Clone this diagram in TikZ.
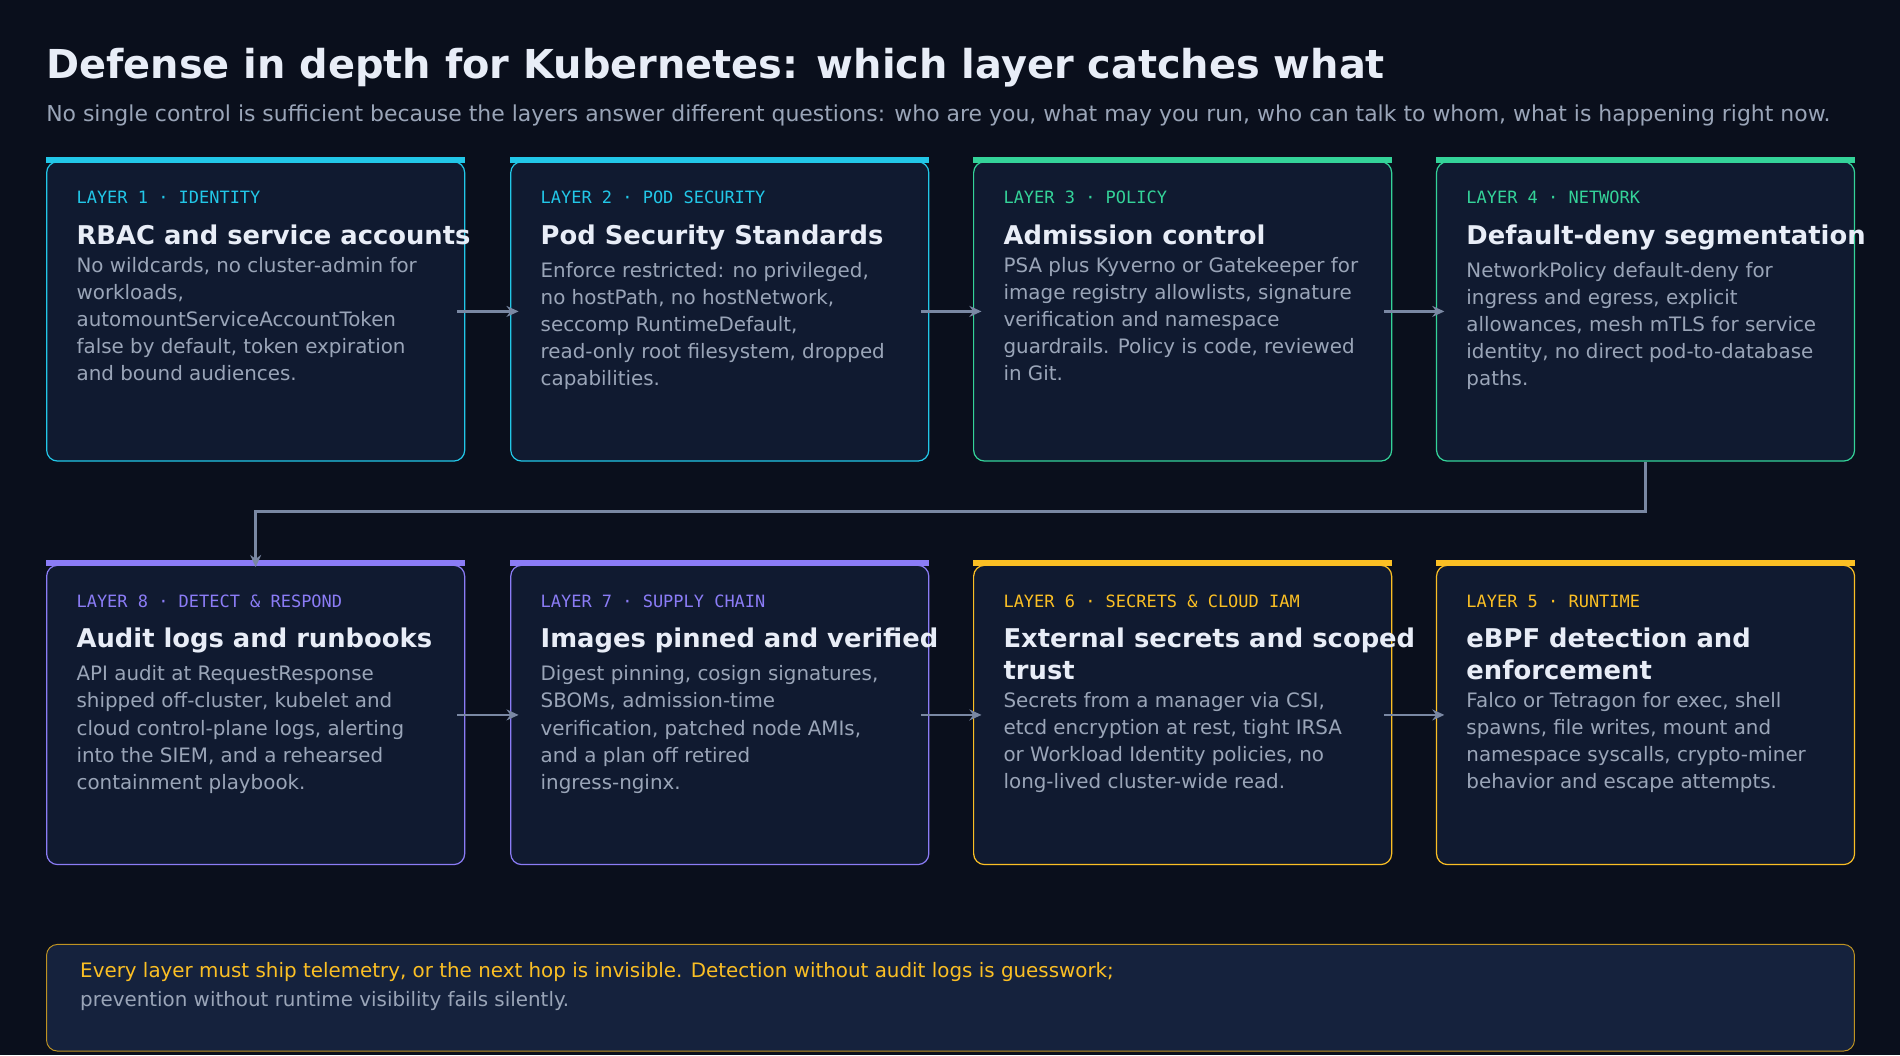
\documentclass[tikz,border=0pt]{standalone}
\usepackage{fontspec}
\setmainfont{DejaVu Sans}
\setmonofont{DejaVu Sans Mono}
\usetikzlibrary{positioning,arrows.meta}
\definecolor{bgc}{HTML}{0A0F1C}
\definecolor{cardc}{HTML}{101A30}
\definecolor{notec}{HTML}{15223D}
\definecolor{cyanc}{HTML}{22C7E8}
\definecolor{greenc}{HTML}{34D399}
\definecolor{purpc}{HTML}{8B7CF6}
\definecolor{yelc}{HTML}{FBBF24}
\definecolor{whitec}{HTML}{E8EDF7}
\definecolor{grayc}{HTML}{9AA5B8}
\definecolor{arrc}{HTML}{7A88A3}
\tikzset{
  card/.style={draw, line width=1pt, fill=cardc, rounded corners=9pt, minimum width=345pt, minimum height=247pt, anchor=north west, inner sep=0pt},
  bar/.style={line width=5pt},
  lbl/.style={font=\ttfamily\fontsize{14}{16}\selectfont, anchor=west, inner sep=0pt},
  head/.style={font=\bfseries\fontsize{21.3}{26}\selectfont, text=whitec, align=left, anchor=west, inner sep=0pt},
  body/.style={font=\fontsize{16.4}{22.4}\selectfont, text=grayc, align=left, anchor=north west, inner sep=0pt},
  link/.style={draw=arrc, line width=2pt, -{Stealth[length=10pt,width=9pt]}},
}
\newcommand{\layercard}[7]{% name, x, y, colour, label, heading, body
  \node[card, draw=#4] (#1) at (#2,#3) {};
  \draw[bar, #4] ([yshift=1pt]#1.north west) -- ([yshift=1pt]#1.north east);
  \node[lbl, text=#4] (#1l) at ([shift={(25,30)}]#1.north west) {#5};
  \node[head, anchor=north west] (#1h) at ([shift={(25,52)}]#1.north west) {#6};
  \node[body, below=10pt of #1h.south west, anchor=north west] (#1b) {#7};
}
\begin{document}
\begin{tikzpicture}[x=1pt,y=-1pt]
\fill[bgc] (0,0) rectangle (1568,871);
\useasboundingbox (0,0) rectangle (1568,871);

% title
\node[anchor=west, inner sep=0pt, text=whitec, font=\bfseries\fontsize{32.9}{36}\selectfont] (title) at (38,56) {Defense in depth for Kubernetes: which layer catches what};
\node[anchor=west, inner sep=0pt, text=grayc, font=\fontsize{18.1}{20}\selectfont] (sub) at (38,95) {No single control is sufficient because the layers answer different questions: who are you, what may you run, who can talk to whom, what is happening right now.};

% row 1
\layercard{c1}{38}{133}{cyanc}{LAYER 1 · IDENTITY}{RBAC and service accounts}{No wildcards, no cluster-admin for\\workloads,\\automountServiceAccountToken\\false by default, token expiration\\and bound audiences.}
\layercard{c2}{421}{133}{cyanc}{LAYER 2 · POD SECURITY}{Pod Security Standards}{Enforce restricted: no privileged,\\no hostPath, no hostNetwork,\\seccomp RuntimeDefault,\\read-only root filesystem, dropped\\capabilities.}
\layercard{c3}{803}{133}{greenc}{LAYER 3 · POLICY}{Admission control}{PSA plus Kyverno or Gatekeeper for\\image registry allowlists, signature\\verification and namespace\\guardrails. Policy is code, reviewed\\in Git.}
\layercard{c4}{1185}{133}{greenc}{LAYER 4 · NETWORK}{Default-deny segmentation}{NetworkPolicy default-deny for\\ingress and egress, explicit\\allowances, mesh mTLS for service\\identity, no direct pod-to-database\\paths.}

% row 2
\layercard{c8}{38}{466}{purpc}{LAYER 8 · DETECT \& RESPOND}{Audit logs and runbooks}{API audit at RequestResponse\\shipped off-cluster, kubelet and\\cloud control-plane logs, alerting\\into the SIEM, and a rehearsed\\containment playbook.}
\layercard{c7}{421}{466}{purpc}{LAYER 7 · SUPPLY CHAIN}{Images pinned and verified}{Digest pinning, cosign signatures,\\SBOMs, admission-time\\verification, patched node AMIs,\\and a plan off retired\\ingress-nginx.}
\layercard{c6}{803}{466}{yelc}{LAYER 6 · SECRETS \& CLOUD IAM}{External secrets and scoped\\trust}{Secrets from a manager via CSI,\\etcd encryption at rest, tight IRSA\\or Workload Identity policies, no\\long-lived cluster-wide read.}
\layercard{c5}{1185}{466}{yelc}{LAYER 5 · RUNTIME}{eBPF detection and\\enforcement}{Falco or Tetragon for exec, shell\\spawns, file writes, mount and\\namespace syscalls, crypto-miner\\behavior and escape attempts.}

% connectors
\draw[link] ([xshift=-7pt]c1.east) -- ([xshift=7pt]c2.west);
\draw[link] ([xshift=-7pt]c2.east) -- ([xshift=7pt]c3.west);
\draw[link] ([xshift=-7pt]c3.east) -- ([xshift=7pt]c4.west);
\coordinate (turn) at (0,422);
\draw[link] (c4.south) |- (turn -| c8.north) -- ([yshift=-2pt]c8.north);
\draw[link] ([xshift=-7pt]c8.east) -- ([xshift=7pt]c7.west);
\draw[link] ([xshift=-7pt]c7.east) -- ([xshift=7pt]c6.west);
\draw[link] ([xshift=-7pt]c6.east) -- ([xshift=7pt]c5.west);

% note
\node[draw=yelc!75!bgc, line width=0.8pt, fill=notec, rounded corners=9pt, minimum width=1492pt, minimum height=88pt, anchor=north west] (note) at (38,779) {};
\node[anchor=west, inner sep=0pt, text=yelc, font=\fontsize{16.4}{18}\selectfont] (n1) at (66,802) {Every layer must ship telemetry, or the next hop is invisible. Detection without audit logs is guesswork;};
\node[anchor=west, inner sep=0pt, text=grayc, font=\fontsize{16.4}{18}\selectfont] (n2) at (66,826) {prevention without runtime visibility fails silently.};
\end{tikzpicture}
\end{document}
